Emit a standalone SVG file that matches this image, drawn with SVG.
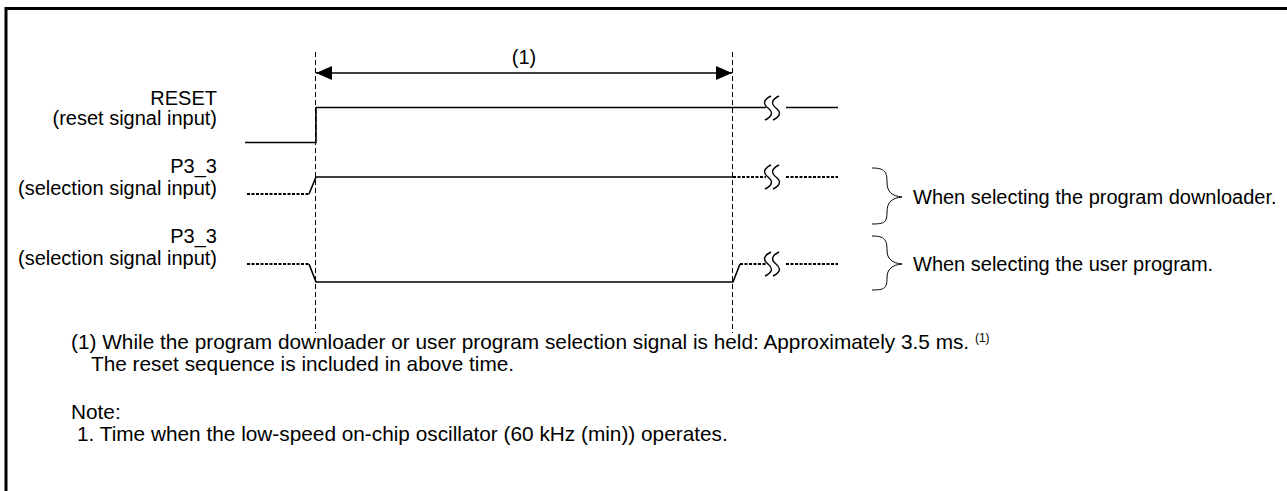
<svg xmlns="http://www.w3.org/2000/svg" width="1287" height="491" viewBox="0 0 1287 491">
<style>
text{font-family:"Liberation Sans",Arial,sans-serif;font-size:20px;fill:#000}
.lbl{text-anchor:end}
.note{font-size:20.8px}
.guide{stroke:#000;stroke-width:1;stroke-dasharray:5 3;fill:none}
.sig{stroke:#000;stroke-width:1.6;fill:none}
.dsig{stroke:#000;stroke-width:2;stroke-dasharray:3 1.5;fill:none}
.brk{stroke:#000;stroke-width:1.4;fill:none}
.brace{stroke:#000;stroke-width:1;fill:none}
</style>
<defs>
<marker id="ah" viewBox="0 0 16 14" refX="16" refY="7" markerWidth="16" markerHeight="14" markerUnits="userSpaceOnUse" orient="auto-start-reverse">
<path d="M0 0 L16 7 L0 14 Z" fill="#000"/>
</marker>
<g id="sq">
<path d="M5 -12 C-3 -8 -3 -4 2 0 C7 4 7 8 -1 12"/>
<path d="M13 -12 C5 -8 5 -4 10 0 C15 4 15 8 7 12"/>
</g>
</defs>
<rect x="0" y="0" width="1287" height="491" fill="#fff"/>
<path d="M6 491 V8.5 H1287" stroke="#000" stroke-width="3" fill="none"/>

<g id="connectors">
<line class="guide" x1="315.5" y1="52" x2="315.5" y2="333"/>
<line class="guide" x1="732.5" y1="52" x2="732.5" y2="333"/>
<line x1="316" y1="73" x2="732" y2="73" stroke="#000" stroke-width="1.6" marker-start="url(#ah)" marker-end="url(#ah)"/>
</g>
<text x="524" y="64" text-anchor="middle">(1)</text>

<g id="reset">
<text class="lbl" x="217" y="105">RESET</text>
<text class="lbl" x="217" y="125">(reset signal input)</text>
<path class="sig" d="M245 142.5 H316 V107.5 H766"/>
<path class="sig" d="M786 107.5 H838"/>
<use href="#sq" x="766" y="108" class="brk"/>
</g>

<g id="p33a">
<text class="lbl" x="217" y="173">P3_3</text>
<text class="lbl" x="217" y="195">(selection signal input)</text>
<path class="dsig" d="M247 194 H309"/>
<path class="sig" d="M309 194 L316 177 H733"/>
<path class="dsig" d="M733 177 H766"/>
<path class="dsig" d="M786 177 H838"/>
<use href="#sq" x="766" y="177" class="brk"/>
</g>

<g id="p33b">
<text class="lbl" x="217" y="243">P3_3</text>
<text class="lbl" x="217" y="265">(selection signal input)</text>
<path class="dsig" d="M247 264 H309"/>
<path class="sig" d="M309 264 L316 282 H733 L740 264"/>
<path class="dsig" d="M740 264 H766"/>
<path class="dsig" d="M786 264 H838"/>
<use href="#sq" x="766" y="264" class="brk"/>
</g>

<g id="brace1">
<path class="brace" d="M872 168 C885 168 887 172 887 182 C887 192 892 196 902 197 C892 198 887 202 887 212 C887 222 885 224 872 224"/>
<text x="913" y="204">When selecting the program downloader.</text>
</g>
<g id="brace2">
<path class="brace" d="M872 236 C885 236 887 240 887 250 C887 259 892 263 902 264 C892 265 887 269 887 278 C887 288 885 290 872 290"/>
<text x="913" y="271">When selecting the user program.</text>
</g>

<g id="notes">
<text class="note" x="71" y="349">(1) While the program downloader or user program selection signal is held: Approximately 3.5 ms. <tspan font-size="12" dy="-7">(1)</tspan></text>
<text class="note" x="91" y="371">The reset sequence is included in above time.</text>
<text class="note" x="71" y="419">Note:</text>
<text class="note" x="77" y="441">1. Time when the low-speed on-chip oscillator (60 kHz (min)) operates.</text>
</g>
</svg>
